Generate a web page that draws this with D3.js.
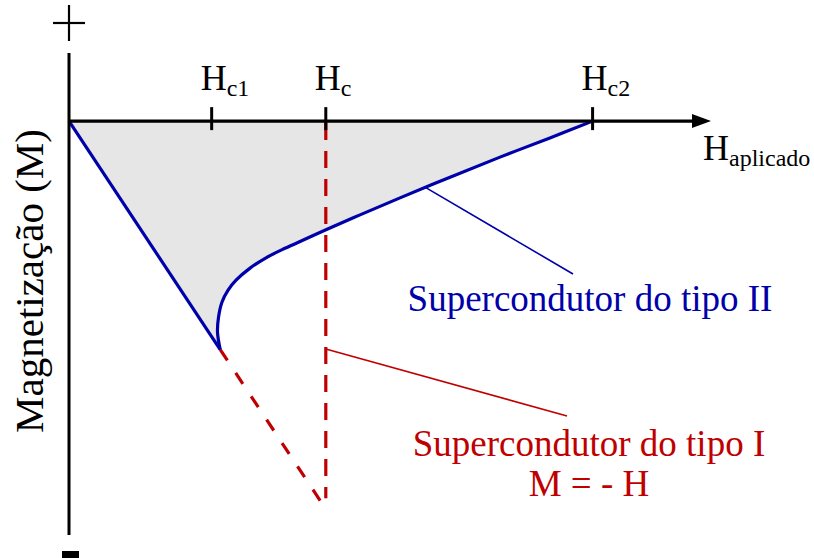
<!DOCTYPE html>
<html>
<head>
<meta charset="utf-8">
<script src="https://cdn.jsdelivr.net/npm/d3@7"></script>
<style>
  html, body { margin: 0; padding: 0; background: #fff; }
  svg { display: block; font-family: "Liberation Serif", "Times New Roman", serif; }
</style>
</head>
<body>
<svg id="chart" width="814" height="558"></svg>
<script>
// Critical fields marked on the applied-field axis
const criticalNames = ["c1", "c", "c2"];
const criticalH = [1.0, 1.80, 3.67];

// Type II superconductor magnetization curve (M vs H), reduced units
const typeIIH = [0, 1.06, 1.041, 1.048, 1.072, 1.114, 1.171, 1.269, 1.381, 1.514, 1.654, 1.801, 2.040, 2.320, 2.671, 3.021, 3.371, 3.67];
const typeIIM = [0, -1.06, -0.980, -0.910, -0.840, -0.785, -0.738, -0.682, -0.634, -0.590, -0.548, -0.504, -0.435, -0.356, -0.260, -0.167, -0.078, 0];

// Type I superconductor: M = -H continued up to Hc
const typeIH = [1.06, 1.775];
const typeIM = [-1.06, -1.775];

const labelTypeII = "Supercondutor do tipo II";
const labelTypeI = ["Supercondutor do tipo I", "M = - H"];
const axisYLabel = "Magnetização (M)";
const axisXLabel = ["H", "aplicado"];

const blue = "#0000AA";
const red = "#C00000";

const svg = d3.select("#chart");

const x = d3.scaleLinear().domain([0, 4.5]).range([69, 711]);
const y = d3.scaleLinear().domain([-1.92, 0.316]).range([535, 53]);

const ptsII = typeIIH.map((h, i) => [h, typeIIM[i]]);
const lineLin = d3.line().x(d => x(d[0])).y(d => y(d[1]));
const lineCurve = d3.line().x(d => x(d[0])).y(d => y(d[1])).curve(d3.curveCatmullRom.alpha(0.5));

const straightPart = ptsII.slice(0, 2);
const curvedPart = ptsII.slice(1);
const curvePath = lineCurve(curvedPart);

// shaded region between the axis and the type II curve
svg.append("path")
  .attr("d", `M${x(0)},${y(0)}L` + curvePath.slice(1) + "Z")
  .attr("fill", "#E6E6E6")
  .attr("stroke", "none");

// Type I: dashed continuation of M = -H and vertical drop at Hc
svg.append("path")
  .attr("d", lineLin(typeIH.map((h, i) => [h, typeIM[i]])))
  .attr("fill", "none").attr("stroke", red).attr("stroke-width", 3.2)
  .attr("stroke-dasharray", "13,15");

svg.append("line")
  .attr("x1", x(criticalH[1])).attr("x2", x(criticalH[1]))
  .attr("y1", y(0) + 2).attr("y2", y(-1.75))
  .attr("stroke", red).attr("stroke-width", 3.2)
  .attr("stroke-dasharray", "17,11");

// Type II curve
svg.append("path").attr("d", lineLin(straightPart))
  .attr("fill", "none").attr("stroke", blue).attr("stroke-width", 3.2);
svg.append("path").attr("d", curvePath)
  .attr("fill", "none").attr("stroke", blue).attr("stroke-width", 3.2);

// Axes
svg.append("line").attr("x1", x(0)).attr("x2", 693).attr("y1", y(0)).attr("y2", y(0))
  .attr("stroke", "#000").attr("stroke-width", 3.2);
svg.append("path")
  .attr("d", `M692,${y(0) - 7}L711,${y(0)}L692,${y(0) + 7}Z`)
  .attr("fill", "#000");
svg.append("line").attr("x1", x(0)).attr("x2", x(0)).attr("y1", y(0.316)).attr("y2", y(-1.92))
  .attr("stroke", "#000").attr("stroke-width", 3);

// plus / minus signs at the ends of the magnetization axis
svg.append("line").attr("x1", 53).attr("x2", 85).attr("y1", 23).attr("y2", 23)
  .attr("stroke", "#000").attr("stroke-width", 2.2);
svg.append("line").attr("x1", 69).attr("x2", 69).attr("y1", 5).attr("y2", 41)
  .attr("stroke", "#000").attr("stroke-width", 2.2);
svg.append("rect").attr("x", 62).attr("y", 551).attr("width", 17).attr("height", 8)
  .attr("fill", "#000");

// Critical field ticks and labels
const ticks = svg.append("g");
criticalH.forEach((h, i) => {
  ticks.append("line")
    .attr("x1", x(h)).attr("x2", x(h))
    .attr("y1", y(0) - 14).attr("y2", y(0) + 9)
    .attr("stroke", "#000").attr("stroke-width", 3);
  const t = ticks.append("text")
    .attr("x", x(h) - 11).attr("y", 90)
    .attr("font-size", 36).attr("fill", "#000");
  t.append("tspan").text("H");
  t.append("tspan").attr("font-size", 24).attr("dy", 6).text(criticalNames[i]);
});

// applied field label
const xl = svg.append("text").attr("x", 703).attr("y", 160)
  .attr("font-size", 36).attr("fill", "#000");
xl.append("tspan").text(axisXLabel[0]);
xl.append("tspan").attr("font-size", 24).attr("dy", 6).text(axisXLabel[1]);

// magnetization label
svg.append("text")
  .attr("transform", "translate(43,281) rotate(-90)")
  .attr("text-anchor", "middle")
  .attr("font-size", 41).attr("fill", "#000")
  .text(axisYLabel);

// Annotations
svg.append("line")
  .attr("x1", x(2.495)).attr("y1", y(-0.306))
  .attr("x2", 573).attr("y2", 274)
  .attr("stroke", blue).attr("stroke-width", 1.6);
svg.append("text")
  .attr("x", 590).attr("y", 311).attr("text-anchor", "middle")
  .attr("font-size", 37).attr("fill", blue)
  .text(labelTypeII);

svg.append("line")
  .attr("x1", x(criticalH[1])).attr("y1", 349)
  .attr("x2", 567).attr("y2", 416)
  .attr("stroke", red).attr("stroke-width", 1.6);
svg.append("text")
  .attr("x", 589).attr("y", 456).attr("text-anchor", "middle")
  .attr("font-size", 37).attr("fill", red)
  .text(labelTypeI[0]);
svg.append("text")
  .attr("x", 589).attr("y", 496).attr("text-anchor", "middle")
  .attr("font-size", 37).attr("fill", red)
  .text(labelTypeI[1]);
</script>
</body>
</html>
